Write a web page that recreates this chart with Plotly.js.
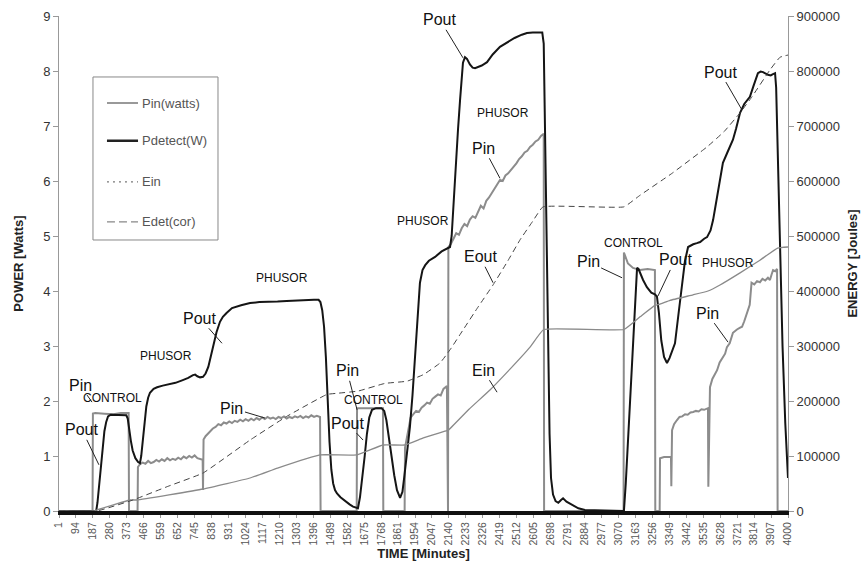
<!DOCTYPE html>
<html>
<head>
<meta charset="utf-8">
<script src="https://cdn.plot.ly/plotly-3.0.1.min.js"></script>
<style>html,body{margin:0;padding:0;background:#fff;}#chart{width:867px;height:568px;}</style>
</head>
<body>
<div id="chart"></div>
<script>
// ---- Data (time in minutes) ----
var tickTimes = [1,94,187,280,373,466,559,652,745,838,931,1024,1117,1210,1303,1396,1489,1582,1675,1768,1861,1954,2047,2140,2233,2326,2419,2512,2605,2698,2791,2884,2977,3070,3163,3256,3349,3442,3535,3628,3721,3814,3907,4000];
var tickLabels = tickTimes.map(String);

// Pin (watts)
var pinT = [1,185,187,200,250,300,340,383,385,432,
  434,445,460,475,490,505,520,535,550,565,580,595,610,625,640,655,670,685,700,715,730,745,760,775,789,791,
  794,805,815,830,845,860,875,890,905,920,935,950,965,980,995,1010,1025,1040,1055,1070,1085,1100,1115,1130,1145,1160,1175,1190,1205,1220,1235,1250,1265,1280,1295,1310,1325,1340,1355,1370,1385,1400,1415,1433,1436,
  1634,1636,1700,1778,1780,1897,
  1899,1910,1920,1930,1945,1960,1975,1990,2005,2020,2035,2050,2065,2080,2095,2110,2129,2131,2135,
  2137,2150,2165,2180,2195,2210,2225,2240,2255,2270,2285,2300,2315,2330,2345,2360,2375,2390,2405,2420,2435,2450,2465,2480,2495,2510,2525,2540,2555,2570,2585,2600,2615,2630,2645,2660,2662,
  3098,3100,3122,3150,3188,3230,3270,3272,3296,3298,3320,3358,3360,
  3364,3375,3390,3405,3420,3435,3450,3465,3480,3495,3510,3525,3540,3556,3561,3563,
  3572,3585,3600,3611,3625,3643,3655,3665,3680,3698,3710,3720,3735,3748,3760,3775,3790,3800,3815,3830,3846,3860,3875,3890,3901,3910,3918,3930,3940,3943,4000];
var pinW = [0,0,1.77,1.78,1.77,1.76,1.78,1.78,0,0,
  0.80,0.85,0.88,0.86,0.91,0.87,0.89,0.93,0.90,0.94,0.91,0.96,0.92,0.95,0.93,0.97,0.94,0.99,0.96,1.00,0.97,1.01,0.96,0.95,0.93,0.38,
  1.30,1.36,1.40,1.46,1.50,1.53,1.58,1.56,1.61,1.59,1.63,1.60,1.64,1.62,1.66,1.63,1.67,1.64,1.68,1.65,1.69,1.66,1.70,1.67,1.71,1.68,1.70,1.67,1.71,1.69,1.72,1.68,1.71,1.69,1.72,1.70,1.73,1.69,1.72,1.70,1.74,1.71,1.73,1.71,0,
  0,1.87,1.87,1.87,0,0,
  1.15,1.35,1.55,1.70,1.76,1.82,1.80,1.88,1.92,1.97,1.95,2.04,2.08,2.12,2.10,2.22,2.27,0,0,
  4.80,4.85,4.95,5.05,5.02,5.14,5.22,5.18,5.30,5.36,5.33,5.45,5.55,5.50,5.64,5.70,5.78,5.85,5.92,6.02,6.00,6.10,6.14,6.20,6.24,6.32,6.40,6.45,6.52,6.55,6.62,6.66,6.72,6.75,6.82,6.86,0,
  0,4.70,4.50,4.42,4.38,4.40,4.38,0,0,0.96,0.98,0.98,0.45,
  1.47,1.58,1.65,1.71,1.72,1.76,1.75,1.79,1.80,1.82,1.81,1.85,1.84,1.87,1.87,0.44,
  2.25,2.40,2.50,2.56,2.70,2.80,2.86,2.98,3.05,3.24,3.28,3.30,3.33,3.35,3.45,3.60,3.75,4.15,4.12,4.18,4.16,4.22,4.19,4.24,4.20,4.30,4.38,4.36,4.40,0,0];

// Pdetect (W)
var poutT = [1,205,212,220,230,240,250,260,270,285,300,340,370,378,385,395,405,420,435,445,452,460,470,480,490,500,520,539,570,600,640,680,710,736,748,760,775,791,805,820,835,846,865,884,900,920,950,1000,1049,1100,1150,1200,1250,1300,1350,1400,1425,1435,1445,1455,1465,1475,1485,1495,1505,1515,1526,1545,1570,1595,1614,1641,1652,1665,1678,1690,1703,1718,1740,1770,1785,1797,1810,1825,1840,1855,1872,1885,1895,1910,1926,1940,1954,1968,1981,1995,2010,2030,2064,2100,2130,2146,2155,2165,2175,2190,2201,2210,2217,2228,2239,2255,2270,2283,2300,2320,2349,2380,2420,2460,2500,2540,2568,2600,2640,2652,2660,2667,2675,2683,2692,2700,2711,2725,2740,2755,2766,2785,2810,2850,2886,3100,3110,3130,3150,3165,3172,3180,3190,3205,3226,3250,3270,3281,3292,3305,3320,3336,3350,3365,3380,3400,3419,3435,3452,3480,3500,3518,3540,3556,3575,3589,3600,3611,3625,3643,3665,3698,3715,3737,3760,3791,3810,3835,3850,3863,3890,3905,3915,3929,3935,3945,3956,3970,3985,4000];
var poutW = [0,0,0.15,0.45,0.85,1.20,1.45,1.62,1.72,1.75,1.75,1.74,1.74,1.68,1.50,1.28,1.10,0.96,0.89,0.87,1.00,1.30,1.65,1.90,2.06,2.15,2.22,2.25,2.28,2.30,2.33,2.38,2.42,2.47,2.48,2.45,2.43,2.44,2.50,2.62,2.82,2.98,3.25,3.44,3.53,3.60,3.69,3.74,3.78,3.80,3.80,3.81,3.82,3.83,3.83,3.84,3.84,3.80,3.65,3.35,2.80,2.00,1.25,0.75,0.50,0.38,0.32,0.25,0.18,0.12,0.08,0.05,0.25,0.60,1.00,1.40,1.70,1.84,1.87,1.87,1.82,1.65,1.38,1.00,0.65,0.38,0.24,0.35,0.62,1.05,1.53,2.10,2.75,3.55,4.15,4.38,4.47,4.55,4.62,4.72,4.78,4.80,5.00,5.60,6.20,6.95,7.47,7.90,8.15,8.25,8.22,8.12,8.06,8.05,8.07,8.10,8.16,8.30,8.44,8.52,8.60,8.66,8.69,8.70,8.71,8.70,8.50,7.00,5.00,3.00,1.40,0.60,0.30,0.18,0.15,0.20,0.23,0.17,0.12,0.05,0.02,0,0.50,1.80,3.20,4.10,4.42,4.40,4.32,4.20,4.07,3.97,3.94,3.90,3.60,3.10,2.80,2.69,2.78,2.90,3.05,3.60,4.07,4.55,4.80,4.85,4.87,4.89,4.95,4.98,5.10,5.29,5.50,5.70,6.00,6.33,6.50,6.75,6.95,7.24,7.40,7.53,7.72,7.96,7.99,7.98,7.93,7.92,7.94,7.96,7.70,6.40,4.90,3.00,1.60,0.60];

// Ein (Joules)
var einT = [1,187,390,429,791,1049,1200,1433,1636,1778,1899,2000,2129,2137,2250,2365,2475,2585,2660,3100,3188,3270,3298,3353,3479,3561,3627,3737,3846,3943,4000];
var einJ = [0,0,20000,20000,40000,60000,78000,102000,102000,120000,120000,133000,146000,147000,185000,220000,258000,298000,330000,330000,353000,374000,376000,383000,393000,400000,411000,433000,456000,478000,480000];

// Edet(cor) (Joules)
var eoutT = [1,209,407,600,791,1049,1250,1471,1526,1641,1789,1910,2000,2091,2150,2217,2300,2382,2460,2530,2600,2656,3100,3188,3364,3556,3650,3737,3802,3901,3956,4000];
var eoutJ = [0,0,20000,45000,69000,129000,172000,212000,214000,218000,232000,236000,248000,269000,295000,329000,371000,411000,453000,493000,527000,553000,553000,574000,614000,662000,690000,724000,753000,802000,825000,829000];

var FONT = 'Liberation Sans, Arial, Helvetica, sans-serif';

var traces = [
  {x: pinT, y: pinW, type:'scatter', mode:'lines', name:'Pin(watts)', line:{color:'#8c8c8c', width:2}, yaxis:'y', showlegend:false},
  {x: einT, y: einJ, type:'scatter', mode:'lines', name:'Ein', line:{color:'#8a8a8a', width:1.3, shape:'spline', smoothing:0.3}, yaxis:'y2', showlegend:false},
  {x: eoutT, y: eoutJ, type:'scatter', mode:'lines', name:'Edet(cor)', line:{color:'#444', width:1, dash:'6px,4px', shape:'spline', smoothing:0.3}, yaxis:'y2', showlegend:false},
  {x: poutT, y: poutW, type:'scatter', mode:'lines', name:'Pdetect(W)', line:{color:'#151515', width:2}, yaxis:'y', showlegend:false}
];

function lab(text, t, p, size, ax, ay) {
  var a = {x:t, y:p, xref:'x', yref:'y', text:text, font:{family:FONT, size:size, color:'#111'}};
  if (ax === undefined) { a.showarrow = false; }
  else { a.showarrow = true; a.arrowhead = 0; a.arrowwidth = 1; a.arrowcolor = '#222'; a.ax = ax; a.ay = ay; a.standoff = 0; a.startstandoff = 0; }
  return a;
}
var BIG = 16, SMALL = 12;
var annotations = [
  lab('Pin', 182, 1.98, BIG, -12, -17),
  lab('Pout', 220, 0.84, BIG, -17, -35),
  lab('CONTROL', 297, 2.05, SMALL),
  lab('PHUSOR', 588, 2.82, SMALL),
  lab('Pout', 895, 3.05, BIG, -22, -25),
  lab('PHUSOR', 1224, 4.24, SMALL),
  lab('Pin', 1131, 1.69, BIG, -33, -10),
  lab('Pin', 1636, 1.84, BIG, -10, -39),
  lab('CONTROL', 1724, 2.02, SMALL),
  lab('Pout', 1669, 1.29, BIG, -16, -17),
  lab('PHUSOR', 1998, 5.27, SMALL),
  lab('Pout', 2217, 8.24, BIG, -23, -38),
  lab('PHUSOR', 2437, 7.24, SMALL),
  lab('Pin', 2420, 6.05, BIG, -16, -30),
  lab('Eout', 2382, 4.15, BIG, -13, -26),
  lab('Ein', 2404, 2.16, BIG, -14, -22),
  lab('Pin', 3090, 4.24, BIG, -34, -16),
  lab('CONTROL', 3150, 4.87, SMALL),
  lab('Pout', 3287, 3.91, BIG, 17, -36),
  lab('PHUSOR', 3671, 4.51, SMALL),
  lab('Pin', 3671, 3.07, BIG, -21, -29),
  lab('Pout', 3748, 7.29, BIG, -22, -38)
];

// manual legend (paper coords)
var legNames = ['Pin(watts)', 'Pdetect(W)', 'Ein', 'Edet(cor)'];
var legY = [0.824, 0.748, 0.665, 0.584];
var legStyle = [
  {color:'#777', width:1.5, dash:'solid'},
  {color:'#222', width:2.5, dash:'solid'},
  {color:'#777', width:1.2, dash:'2px,4px'},
  {color:'#888', width:1.2, dash:'8px,4px'}
];
var shapes = [
  {type:'rect', xref:'paper', yref:'paper', x0:0.0466, x1:0.2181, y0:0.5475, y1:0.8768, line:{color:'#888', width:1}, fillcolor:'#fff', layer:'above'}
];
for (var i = 0; i < legNames.length; i++) {
  shapes.push({type:'line', xref:'paper', yref:'paper', x0:0.0658, x1:0.1084, y0:legY[i], y1:legY[i], line:legStyle[i], layer:'above'});
  annotations.push({xref:'paper', yref:'paper', x:0.1111, y:legY[i], xanchor:'left', yanchor:'middle', showarrow:false, text:legNames[i], font:{family:FONT, size:13, color:'#555'}});
}

var layout = {
  width:867, height:568,
  margin:{l:59, r:79, t:16, b:57, pad:0},
  paper_bgcolor:'#fff', plot_bgcolor:'#fff',
  font:{family:FONT, color:'#333'},
  showlegend:false,
  xaxis:{
    range:[1,4000], tickmode:'array', tickvals:tickTimes, ticktext:tickLabels, tickangle:-90,
    tickfont:{family:FONT, size:10.5, color:'#555'},
    showline:true, linecolor:'#111', linewidth:4, ticks:'outside', ticklen:3, tickcolor:'#999',
    showgrid:false, zeroline:false,
    title:{text:'<b>TIME [Minutes]</b>', font:{family:FONT, size:13, color:'#222'}, standoff:4}
  },
  yaxis:{
    range:[0,9], dtick:1, tick0:0, ticks:'outside', ticklen:5, tickcolor:'#999',
    showline:true, linecolor:'#999', linewidth:1, showgrid:false, zeroline:false,
    tickfont:{family:FONT, size:13, color:'#333'},
    title:{text:'<b>POWER [Watts]</b>', font:{family:FONT, size:13, color:'#222'}, standoff:16}
  },
  yaxis2:{
    overlaying:'y', side:'right', range:[0,900000], dtick:100000, tick0:0, tickformat:'d',
    ticks:'outside', ticklen:5, tickcolor:'#999', showline:true, linecolor:'#999', linewidth:1,
    showgrid:false, zeroline:false,
    tickfont:{family:FONT, size:13, color:'#333'},
    title:{text:'<b>ENERGY [Joules]</b>', font:{family:FONT, size:13, color:'#222'}, standoff:8}
  },
  annotations:annotations,
  shapes:shapes
};

Plotly.newPlot('chart', traces, layout, {displayModeBar:false, staticPlot:true});
</script>
</body>
</html>
